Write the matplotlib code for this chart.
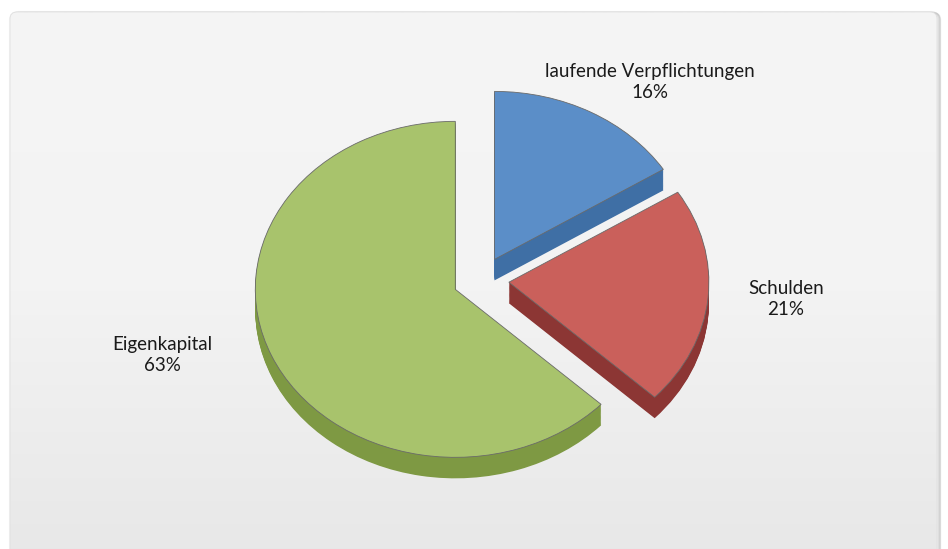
import matplotlib
matplotlib.use("Agg")
import matplotlib.pyplot as plt
import numpy as np
from matplotlib.patches import FancyBboxPatch

# ---- data ----
categories = ["laufende Verpflichtungen", "Schulden", "Eigenkapital"]
values = [16, 21, 63]
top_colors = ["#5b8ec8", "#ca605b", "#a8c36c"]
side_colors = ["#3f6fa5", "#8c3634", "#7e9943"]

W, H = 948, 549
fig = plt.figure(figsize=(W / 100, H / 100), dpi=100)
fig.patch.set_facecolor("white")

# ---- background panel (pixel coords, y down) ----
bg = fig.add_axes([0, 0, 1, 1])
bg.set_xlim(0, W)
bg.set_ylim(H, 0)
bg.axis("off")
for i, a in enumerate([0.04, 0.05, 0.06, 0.07]):
    sh = FancyBboxPatch((10 + 1 + i * 0.8, 12 + 1), 927, 560,
                        boxstyle="round,pad=0,rounding_size=7",
                        fc="none", ec=(0, 0, 0, a), lw=3 - i * 0.6, zorder=1)
    bg.add_patch(sh)
panel = FancyBboxPatch((10, 12), 927, 560, boxstyle="round,pad=0,rounding_size=7",
                       fc="none", ec="#e0e0e0", lw=0.6, zorder=3)
bg.add_patch(panel)
grad = np.linspace(0, 1, 256)[:, None]
cmap = matplotlib.colors.LinearSegmentedColormap.from_list("g", ["#f5f5f5", "#f3f3f3", "#e7e7e7"])
im = bg.imshow(grad, extent=(10, 937, 572, 12), cmap=cmap, aspect="auto", zorder=2)
im.set_clip_path(panel)

# ---- pie (ellipse via non-equal aspect) ----
cx, cy = 481, 280      # centre in pixels
rx, ry = 200, 168      # radii in pixels
depth_px = 21
ax = fig.add_axes([0, 0, 1, 1])
ax.patch.set_alpha(0)
explode = [0.14] * len(values)
nlayers = 24
for k in range(nlayers, 0, -1):
    off = -depth_px / ry * k / nlayers
    ax.pie(values, explode=explode, colors=side_colors, startangle=90,
           counterclock=False, center=(0, off),
           wedgeprops=dict(linewidth=0, edgecolor="none"))
ax.pie(values, explode=explode, colors=top_colors, startangle=90,
       counterclock=False, center=(0, 0),
       wedgeprops=dict(linewidth=0.6, edgecolor="#6a6a6a"))
ax.set_aspect("auto")
ax.set_xlim(-cx / rx, (W - cx) / rx)
ax.set_ylim(-(H - cy) / ry, cy / ry)
ax.axis("off")

# ---- labels ----
label_pos = [(650, 82), (786, 299), (162, 355)]
for name, v, (x, y) in zip(categories, values, label_pos):
    bg.text(x, y, f"{name}\n{v}%", ha="center", va="center", fontsize=13.5,
            family="Lato", color="#1a1a1a", linespacing=1.25, zorder=10)

fig.savefig("out.png", dpi=100)
